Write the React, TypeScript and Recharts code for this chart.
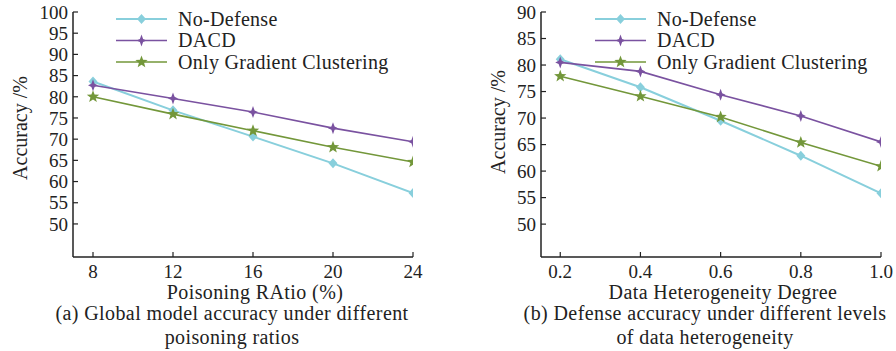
import React from 'react';
import { LineChart, Line, XAxis, YAxis } from 'recharts';

const FONT = '"Liberation Serif", "Times New Roman", serif';

const COLORS = {
  noDefense: '#88cfdc',
  dacd: '#7a52a0',
  ogc: '#73973a',
};

// (a) poisoning ratio
const ratios = [8, 12, 16, 20, 24];
const ratioNoDefense = [83.6, 76.8, 70.6, 64.3, 57.3];
const ratioDacd = [82.7, 79.6, 76.4, 72.6, 69.4];
const ratioOgc = [80.0, 75.9, 72.0, 68.1, 64.6];
const ratioYTicks = [50, 55, 60, 65, 70, 75, 80, 85, 90, 95, 100];

// (b) heterogeneity
const hetero = [0.2, 0.4, 0.6, 0.8, 1.0];
const heteroNoDefense = [81.1, 75.8, 69.5, 62.9, 55.8];
const heteroDacd = [80.5, 78.8, 74.4, 70.4, 65.5];
const heteroOgc = [77.9, 74.1, 70.2, 65.4, 60.9];
const heteroYTicks = [50, 55, 60, 65, 70, 75, 80, 85, 90];

const legendItems = [
  { key: 'noDefense', name: 'No-Defense', shape: 'diamond' },
  { key: 'dacd', name: 'DACD', shape: 'cross' },
  { key: 'ogc', name: 'Only Gradient Clustering', shape: 'star' },
] as const;

function shapePoints(shape: string, cx: number, cy: number) {
  if (shape === 'diamond') {
    return `${cx},${cy - 5} ${cx + 4.5},${cy} ${cx},${cy + 5} ${cx - 4.5},${cy}`;
  }
  if (shape === 'cross') {
    const a = 1.6;
    return [
      [cx, cy - 6], [cx + a, cy - a], [cx + 5, cy], [cx + a, cy + a],
      [cx, cy + 6], [cx - a, cy + a], [cx - 5, cy], [cx - a, cy - a],
    ].map(p => p.join(',')).join(' ');
  }
  const pts: string[] = [];
  for (let i = 0; i < 10; i++) {
    const r = i % 2 === 0 ? 6.5 : 2.7;
    const ang = -Math.PI / 2 + (i * Math.PI) / 5;
    pts.push(`${cx + r * Math.cos(ang)},${cy + r * Math.sin(ang)}`);
  }
  return pts.join(' ');
}

const makeDot = (shape: string, color: string) => (props: any) => {
  const { cx, cy, index } = props;
  if (cx == null || cy == null) return <g key={index} />;
  return <polygon key={index} points={shapePoints(shape, cx, cy)} fill={color} stroke="none" />;
};

const tickStyle = { fontFamily: FONT, fontSize: 19, fill: '#222' };

function Legend({ x }: { x: number }) {
  return (
    <svg style={{ position: 'absolute', left: x, top: 0 }} width={290} height={80}>
      {legendItems.map((it, i) => {
        const y = 19 + i * 21.5;
        const color = COLORS[it.key];
        return (
          <g key={it.key}>
            <line x1={0} x2={51} y1={y} y2={y} stroke={color} strokeWidth={it.key === 'noDefense' ? 2 : 1.6} />
            <polygon points={shapePoints(it.shape, 25.5, y)} fill={color} />
            <text x={62} y={y + 6.5} style={{ fontFamily: FONT, fontSize: 20, letterSpacing: 0.3, fill: '#222' }}>{it.name}</text>
          </g>
        );
      })}
    </svg>
  );
}

function Caption({ text, cx, cy, lh = 20 }: { text: string; cx: number; cy: number; lh?: number }) {
  return (
    <div style={{
      position: 'absolute', left: cx - 250, top: cy - lh / 2, width: 500, textAlign: 'center',
      fontFamily: FONT, fontSize: 20, letterSpacing: 0.4, lineHeight: `${lh}px`, color: '#222', whiteSpace: 'nowrap',
    }}>{text}</div>
  );
}

function YLabel({ cx, cy }: { cx: number; cy: number }) {
  return (
    <div style={{
      position: 'absolute', left: cx - 80, top: cy - 10, width: 160, textAlign: 'center',
      fontFamily: FONT, fontSize: 20, lineHeight: '20px', color: '#222', transform: 'rotate(-90deg)',
    }}>Accuracy /%</div>
  );
}

function Panel({ xs, a, b, c, domainX, domainY, yTicks, margin, fmt }: any) {
  const rows = xs.map((x: number, i: number) => ({ x, noDefense: a[i], dacd: b[i], ogc: c[i] }));
  return (
    <LineChart width={448} height={351} data={rows} margin={margin}>
      <XAxis
        dataKey="x" type="number" domain={domainX} ticks={xs} allowDataOverflow
        axisLine={{ stroke: '#222', strokeWidth: 1.5 }} tickLine={{ stroke: '#222', strokeWidth: 1.2 }}
        tickSize={-5} tickMargin={13} height={30} tick={tickStyle} tickFormatter={fmt}
      />
      <YAxis
        type="number" domain={domainY} ticks={yTicks} allowDataOverflow interval={0}
        axisLine={{ stroke: '#222', strokeWidth: 1.5 }} tickLine={{ stroke: '#222', strokeWidth: 1.2 }}
        tickSize={-5} tickMargin={10} width={50} tick={tickStyle}
      />
      <Line dataKey="noDefense" stroke={COLORS.noDefense} strokeWidth={2} dot={makeDot('diamond', COLORS.noDefense)} isAnimationActive={false} />
      <Line dataKey="dacd" stroke={COLORS.dacd} strokeWidth={1.6} dot={makeDot('cross', COLORS.dacd)} isAnimationActive={false} />
      <Line dataKey="ogc" stroke={COLORS.ogc} strokeWidth={1.6} dot={makeDot('star', COLORS.ogc)} isAnimationActive={false} />
    </LineChart>
  );
}

export default function App() {
  return (
    <div style={{ position: 'absolute', left: 0, top: 0, width: 896, height: 351, background: '#fff', overflow: 'hidden' }}>
      <div style={{ position: 'absolute', left: 0, top: 0 }}>
        <Panel
          xs={ratios} a={ratioNoDefense} b={ratioDacd} c={ratioOgc}
          domainX={[7, 24]} domainY={[42.2, 100]} yTicks={ratioYTicks}
          margin={{ top: 12, right: 35, bottom: 64, left: 23 }}
          fmt={(v: number) => String(v)}
        />
      </div>
      <div style={{ position: 'absolute', left: 448, top: 0 }}>
        <Panel
          xs={hetero} a={heteroNoDefense} b={heteroDacd} c={heteroOgc}
          domainX={[0.152, 1.0]} domainY={[43.8, 90]} yTicks={heteroYTicks}
          margin={{ top: 12, right: 15, bottom: 64, left: 43 }}
          fmt={(v: number) => v.toFixed(1)}
        />
      </div>
      <Legend x={116} />
      <Legend x={595} />
      <YLabel cx={20} cy={128} />
      <YLabel cx={498} cy={122} />
      <Caption text="Poisoning RAtio (%)" cx={255} cy={292} lh={16} />
      <Caption text="(a) Global model accuracy under different" cx={232} cy={313} />
      <Caption text="poisoning ratios" cx={232} cy={337} />
      <Caption text="Data Heterogeneity Degree" cx={723} cy={292} lh={16} />
      <Caption text="(b) Defense accuracy under different levels" cx={705} cy={313} />
      <Caption text="of data heterogeneity" cx={705} cy={337} />
    </div>
  );
}
